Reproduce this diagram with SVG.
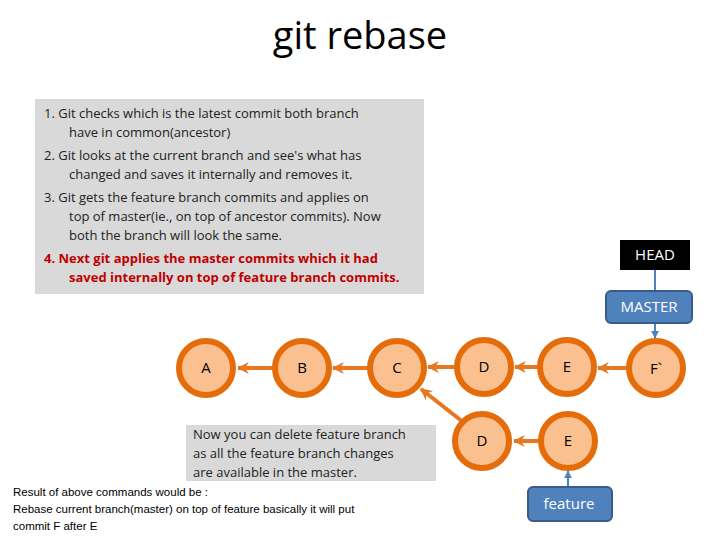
<svg xmlns="http://www.w3.org/2000/svg" width="720" height="540" viewBox="0 0 720 540">
<defs>
<marker id="ah" viewBox="0 0 10 10" refX="9" refY="5" markerWidth="3" markerHeight="3" orient="auto"><path d="M0,0 L10,5 L0,10 L3,5 z" fill="#E87722"/></marker>
<marker id="bh" viewBox="0 0 10 10" refX="9" refY="5" markerWidth="4" markerHeight="4" orient="auto"><path d="M0,0 L10,5 L0,10 z" fill="#4F81BD"/></marker>
</defs>
<style>
.t{font-family:"Open Sans","Liberation Sans",sans-serif;}
.n{fill:#FAC090;stroke:#E46C0A;stroke-width:6}
.nl{font-family:"Open Sans","Liberation Sans",sans-serif;font-size:15px;text-anchor:middle;fill:#000}
.c{stroke:#E87722;stroke-width:4;fill:none;marker-end:url(#ah)}
.b{fill:#4F81BD;stroke:#385D8A;stroke-width:2}
.bl{font-family:"Open Sans","Liberation Sans",sans-serif;font-size:15px;text-anchor:middle;fill:#fff}
</style>
<rect width="720" height="540" fill="#fff"/>
<text x="360" y="49" class="t" font-size="38" text-anchor="middle">git rebase</text>
<g id="steps">
<rect x="35" y="99" width="389" height="195" fill="#D9D9D9"/>
<g class="t" font-size="13" fill="#222">
<text x="44" y="118">1.  Git checks which is the latest commit both branch</text>
<text x="69" y="137">have in common(ancestor)</text>
<text x="44" y="160">2.  Git looks at the current branch and see's what has</text>
<text x="69" y="179">changed and saves it internally and removes it.</text>
<text x="44" y="202">3.  Git gets the feature branch commits and applies on</text>
<text x="69" y="221">top of master(ie., on top of ancestor commits). Now</text>
<text x="69" y="240">both the branch will look the same.</text>
<text x="44" y="263" fill="#C00000" font-weight="bold">4.  Next git applies the master commits which it had</text>
<text x="69" y="282" fill="#C00000" font-weight="bold">saved internally on top of feature branch commits.</text>
</g>
</g>
<g id="note">
<rect x="186" y="425" width="250" height="56" fill="#D9D9D9"/>
<g class="t" font-size="13" fill="#222">
<text x="193" y="432" dy="0.5em">Now you can delete feature branch</text>
<text x="193" y="451" dy="0.5em">as all the feature branch changes</text>
<text x="193" y="470" dy="0.5em">are available in the master.</text>
</g>
</g>
<g id="result" font-family="Liberation Sans Narrow,Liberation Sans,sans-serif" font-size="11.5" fill="#000">
<text x="13" y="496">Result of above commands would be :</text>
<text x="13" y="513">Rebase current branch(master) on top of feature basically it will put</text>
<text x="13" y="530">commit F after E</text>
</g>
<g id="connectors">
<line class="c" x1="273" y1="368" x2="238" y2="368"/>
<line class="c" x1="368" y1="368" x2="333" y2="368"/>
<line class="c" x1="455" y1="367" x2="428" y2="367"/>
<line class="c" x1="538" y1="367" x2="515" y2="367"/>
<line class="c" x1="627" y1="368" x2="598" y2="368"/>
<line class="c" x1="539" y1="441" x2="514" y2="441"/>
<line class="c" x1="463" y1="422" x2="421" y2="389"/>
<line x1="655" y1="270" x2="655" y2="291" stroke="#4F81BD" stroke-width="2"/>
<line x1="655" y1="323" x2="655" y2="338" stroke="#4F81BD" stroke-width="2" marker-end="url(#bh)"/>
<line x1="568" y1="487" x2="568" y2="471" stroke="#4F81BD" stroke-width="2" marker-end="url(#bh)"/>
</g>
<g id="A"><circle class="n" cx="206" cy="368" r="27"/><text class="nl" x="206" y="373">A</text></g>
<g id="B"><circle class="n" cx="302" cy="368" r="27"/><text class="nl" x="302" y="373">B</text></g>
<g id="C"><circle class="n" cx="397" cy="368" r="27"/><text class="nl" x="397" y="373">C</text></g>
<g id="D"><circle class="n" cx="484" cy="367" r="27"/><text class="nl" x="484" y="372">D</text></g>
<g id="E"><circle class="n" cx="567" cy="367" r="27"/><text class="nl" x="567" y="372">E</text></g>
<g id="F"><circle class="n" cx="656" cy="368" r="27" stroke="#C00000"/><text class="nl" x="656" y="374">F`</text></g>
<g id="D2"><circle class="n" cx="482" cy="441" r="27"/><text class="nl" x="482" y="446">D</text></g>
<g id="E2"><circle class="n" cx="568" cy="441" r="27"/><text class="nl" x="568" y="446">E</text></g>
<g id="HEAD"><rect x="620" y="240" width="70" height="30" fill="#000"/><text class="bl" x="655" y="260">HEAD</text></g>
<g id="MASTER"><rect class="b" x="606" y="291" width="86" height="32" rx="5"/><text class="bl" x="649" y="312">MASTER</text></g>
<g id="feature"><rect class="b" x="528" y="487" width="84" height="34" rx="5"/><text class="bl" x="569" y="509">feature</text></g>
</svg>
